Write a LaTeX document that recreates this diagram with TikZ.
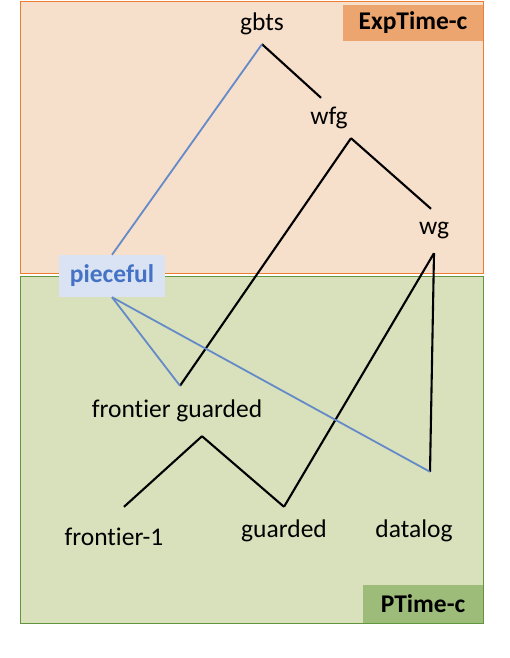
\documentclass[tikz,border=0pt]{standalone}
\usepackage{fontspec}
\setmainfont{Carlito}[Ligatures={NoCommon}]
\definecolor{ExpFill}{RGB}{246,223,203}
\definecolor{ExpLine}{RGB}{237,125,49}
\definecolor{ExpTag}{RGB}{237,165,112}
\definecolor{PFill}{RGB}{216,225,187}
\definecolor{PLine}{RGB}{98,150,62}
\definecolor{PTag}{RGB}{158,188,121}
\definecolor{PieceBlue}{RGB}{68,114,196}
\definecolor{PieceFill}{RGB}{218,227,243}
\definecolor{EdgeBlue}{RGB}{100,138,200}
\usetikzlibrary{calc}

\begin{document}
\begin{tikzpicture}[x=1pt,y=-1pt,
  lbl/.style={inner sep=0pt,font=\fontsize{25.5}{30}\selectfont},
  tag/.style={inner sep=0pt,font=\fontsize{25.5}{30}\selectfont\bfseries},
  edge/.style={black,line width=2.1pt},
  bedge/.style={EdgeBlue,line width=1.8pt}]
\useasboundingbox (0,0) rectangle (510,658);
% complexity regions
\draw[ExpLine,fill=ExpFill,line width=1pt] (20,2) rectangle (483,273);
\draw[PLine,fill=PFill,line width=1pt] (20,276) rectangle (483,623);
\node[tag,fill=ExpTag,minimum width=140pt,minimum height=36pt] (exp) at (413,23) {ExpTime-c};
\node[tag,fill=PTag,minimum width=120pt,minimum height=38pt] (ptime) at (423,604) {PTime-c};
% classes
\node[lbl,minimum height=40pt] (gbts) at (262,24) {gbts};
\node[lbl,minimum height=40pt] (wfg) at (329,118) {wfg};
\node[lbl,minimum height=44pt] (wg) at (434,231) {wg};
\node[tag,text=PieceBlue,fill=PieceFill,minimum width=106pt,minimum height=42pt] (piece) at (112,276) {pieceful};
\node[lbl,minimum height=50pt] (fg) at (177,411) {frontier guarded};
\node[lbl,minimum height=60pt] (fr1) at (114,537) {frontier-1};
\node[lbl,minimum height=48pt] (guarded) at (284,531) {guarded};
\node[lbl,minimum height=40pt] (datalog) at (414,531) {datalog};
% inclusions
\draw[edge] (gbts.south) -- ($(wfg.north)+(-8,0)$);
\draw[edge] ($(wfg.south)+(22,0)$) -- ($(wg.north)+(-3,0)$);
\draw[edge] ($(wfg.south)+(22,0)$) -- ($(fg.north)+(3,0)$);
\draw[edge] (wg.south) -- (guarded.north);
\draw[edge] (wg.south) -- ($(datalog.north)+(16,-39)$);
\draw[edge] ($(fg.south)+(25,0)$) -- ($(fr1.north)+(10,0)$);
\draw[edge] ($(fg.south)+(25,0)$) -- (guarded.north);
\draw[bedge] (gbts.south) -- (piece.north);
\draw[bedge] (piece.south) -- ($(fg.north)+(3,0)$);
\draw[bedge] (piece.south) -- ($(datalog.north)+(16,-39)$);
\end{tikzpicture}
\end{document}
